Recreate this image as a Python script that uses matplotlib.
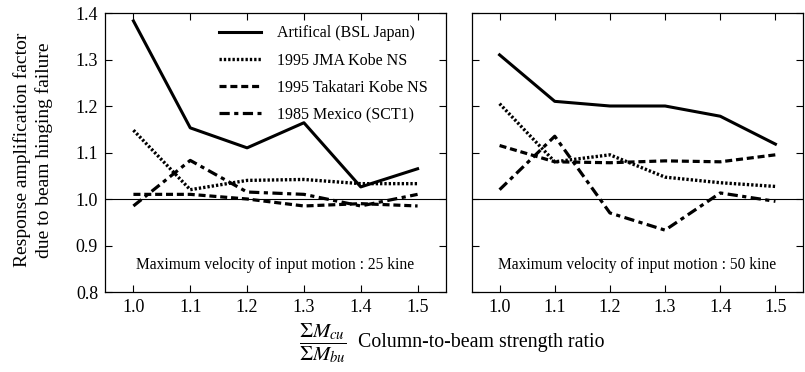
import matplotlib
matplotlib.use("Agg")
import matplotlib.pyplot as plt

plt.rcParams['font.family'] = ['Liberation Serif', 'DejaVu Serif']
plt.rcParams['mathtext.fontset'] = 'stix'

ratio = [1.0, 1.1, 1.2, 1.3, 1.4, 1.5]
series_names = ["Artifical (BSL Japan)", "1995 JMA Kobe NS",
                "1995 Takatari Kobe NS", "1985 Mexico (SCT1)"]

# 25 kine
art_25 = [1.383, 1.153, 1.110, 1.164, 1.026, 1.065]
jma_25 = [1.148, 1.020, 1.040, 1.042, 1.033, 1.033]
tak_25 = [1.010, 1.010, 1.000, 0.985, 0.990, 0.985]
mex_25 = [0.985, 1.083, 1.015, 1.010, 0.985, 1.010]

# 50 kine
art_50 = [1.310, 1.210, 1.200, 1.200, 1.178, 1.118]
jma_50 = [1.205, 1.080, 1.095, 1.047, 1.035, 1.027]
tak_50 = [1.115, 1.080, 1.078, 1.082, 1.080, 1.095]
mex_50 = [1.020, 1.135, 0.970, 0.933, 1.013, 0.995]

panel_notes = ["Maximum velocity of input motion : 25 kine",
               "Maximum velocity of input motion : 50 kine"]

styles = [dict(ls='-', lw=2.2),
          dict(ls=(0, (0.7, 0.6)), lw=2.4),
          dict(ls=(0, (2.2, 1.2)), lw=2.3),
          dict(ls=(0, (3.2, 1.4, 1.3, 1.4)), lw=2.3)]

fig = plt.figure(figsize=(8.05, 3.72), dpi=100)
ax1 = fig.add_axes([105/805, 1-292/372, 341/805, 279/372])
ax2 = fig.add_axes([472/805, 1-292/372, 331/805, 279/372])

data = [[art_25, jma_25, tak_25, mex_25], [art_50, jma_50, tak_50, mex_50]]

for i, ax in enumerate([ax1, ax2]):
    ax.axhline(1.0, color='black', lw=0.8)
    for vals, name, st in zip(data[i], series_names, styles):
        ax.plot(ratio, vals, color='black', label=name, **st)
    ax.set_xlim(0.95, 1.55)
    ax.set_ylim(0.8, 1.4)
    ax.set_xticks(ratio)
    ax.set_yticks([0.8, 0.9, 1.0, 1.1, 1.2, 1.3, 1.4])
    ax.tick_params(direction='in', top=True, right=True, length=5,
                   labelsize=13, pad=5)
    ax.text(0.5, 0.097, panel_notes[i], transform=ax.transAxes,
            ha='center', va='center', fontsize=11.2)
    for sp in ax.spines.values():
        sp.set_linewidth(0.9)

ax2.tick_params(labelleft=False)
fig.text(33/805, 1-150/372,
         "Response amplification factor\ndue to beam hinging failure",
         fontsize=14, rotation=90, ha='center', va='center',
         multialignment='center', linespacing=1.25)
ax1.legend(loc='upper right', frameon=False, fontsize=11.5, handlelength=2.6,
           handletextpad=1.0, labelspacing=0.7,
           bbox_to_anchor=(442/805, 1-11/372), bbox_transform=fig.transFigure)

fig.text(323/805, 1-343/372, r'$\dfrac{\Sigma M_{cu}}{\Sigma M_{bu}}$',
         fontsize=15, ha='center', va='center')
fig.text(358/805, 1-343/372, "Column-to-beam strength ratio", fontsize=14.3,
         ha='left', va='center')

fig.savefig("out.png", dpi=100)
